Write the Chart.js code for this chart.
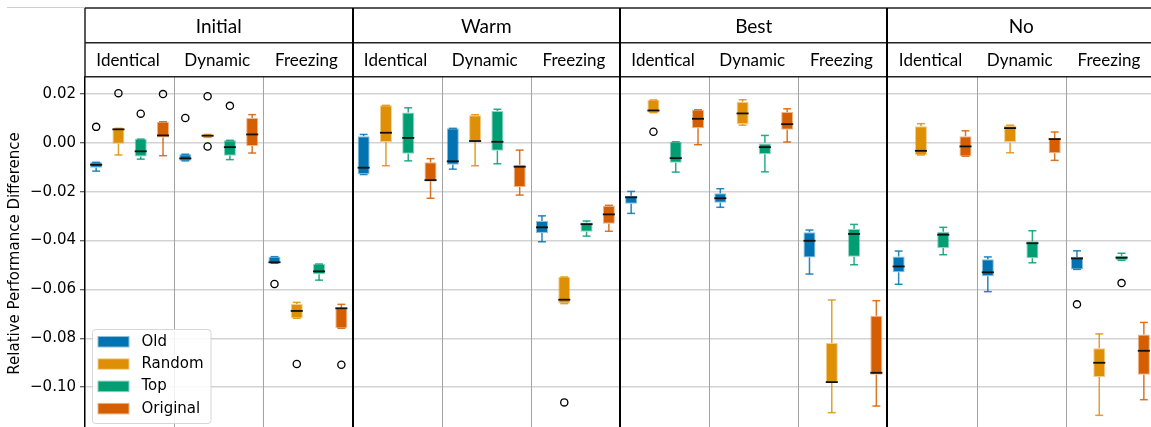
<!DOCTYPE html>
<html><head><meta charset="utf-8">
<style>
html,body{margin:0;padding:0;overflow:hidden;background:#fff;width:1151px;height:427px}
canvas{display:block}
</style>
<script src="https://cdn.jsdelivr.net/npm/chart.js@4.4.1/dist/chart.umd.min.js"></script>
</head><body>
<canvas id="c" width="1160" height="445" style="width:1160px;height:445px"></canvas>
<script>
const groups = ['Initial', 'Warm', 'Best', 'No'];
const subgroups = ['Identical', 'Dynamic', 'Freezing'];
const categories = groups.flatMap(g => subgroups.map(s => g + ' / ' + s));
const seriesNames = ['Old', 'Random', 'Top', 'Original'];
const seriesColors = ['#0173b2', '#de8f05', '#029e73', '#d55e00'];

// each entry: [lower whisker, Q1, median, Q3, upper whisker]
const oldBoxes = [
  [-0.0116, -0.0102, -0.0090, -0.0080, -0.0080],
  [-0.0074, -0.0074, -0.0064, -0.0047, -0.0047],
  [-0.0493, -0.0493, -0.0489, -0.0466, -0.0466],
  [-0.0130, -0.0128, -0.0102, 0.0027, 0.0034],
  [-0.0108, -0.0090, -0.0076, 0.0059, 0.0059],
  [-0.0405, -0.0369, -0.0346, -0.0320, -0.0299],
  [-0.0289, -0.0249, -0.0223, -0.0217, -0.0199],
  [-0.0264, -0.0245, -0.0227, -0.0207, -0.0188],
  [-0.0537, -0.0469, -0.0401, -0.0366, -0.0357],
  [-0.0579, -0.0530, -0.0506, -0.0465, -0.0443],
  [-0.0609, -0.0546, -0.0530, -0.0477, -0.0467],
  [-0.0518, -0.0518, -0.0473, -0.0467, -0.0442]
];
const randomBoxes = [
  [-0.0050, -0.0004, 0.0055, 0.0059, 0.0059],
  [0.0022, 0.0022, 0.0029, 0.0034, 0.0034],
  [-0.0718, -0.0718, -0.0688, -0.0660, -0.0653],
  [-0.0094, 0.0003, 0.0041, 0.0153, 0.0153],
  [-0.0094, 0.0004, 0.0007, 0.0113, 0.0115],
  [-0.0658, -0.0658, -0.0642, -0.0549, -0.0549],
  [0.0123, 0.0123, 0.0132, 0.0175, 0.0175],
  [0.0072, 0.0076, 0.0120, 0.0168, 0.0176],
  [-0.1104, -0.0981, -0.0979, -0.0819, -0.0643],
  [-0.0050, -0.0050, -0.0033, 0.0068, 0.0078],
  [-0.0041, 0.0000, 0.0060, 0.0071, 0.0072],
  [-0.1115, -0.0958, -0.0900, -0.0841, -0.0782]
];
const topBoxes = [
  [-0.0067, -0.0056, -0.0035, 0.0015, 0.0015],
  [-0.0069, -0.0053, -0.0018, 0.0010, 0.0010],
  [-0.0562, -0.0538, -0.0526, -0.0496, -0.0496],
  [-0.0074, -0.0045, 0.0020, 0.0124, 0.0143],
  [-0.0086, -0.0033, 0.0004, 0.0130, 0.0137],
  [-0.0382, -0.0364, -0.0333, -0.0326, -0.0320],
  [-0.0120, -0.0082, -0.0063, 0.0004, 0.0004],
  [-0.0119, -0.0047, -0.0018, 0.0000, 0.0030],
  [-0.0499, -0.0466, -0.0373, -0.0353, -0.0334],
  [-0.0458, -0.0431, -0.0376, -0.0364, -0.0346],
  [-0.0491, -0.0472, -0.0411, -0.0403, -0.0360],
  [-0.0481, -0.0481, -0.0470, -0.0463, -0.0452]
];
const originalBoxes = [
  [-0.0053, 0.0022, 0.0030, 0.0086, 0.0086],
  [-0.0042, -0.0013, 0.0034, 0.0101, 0.0115],
  [-0.0759, -0.0759, -0.0677, -0.0676, -0.0661],
  [-0.0227, -0.0158, -0.0153, -0.0080, -0.0065],
  [-0.0214, -0.0181, -0.0098, -0.0090, -0.0030],
  [-0.0362, -0.0331, -0.0293, -0.0258, -0.0256],
  [-0.0008, 0.0059, 0.0098, 0.0135, 0.0135],
  [0.0003, 0.0053, 0.0076, 0.0126, 0.0139],
  [-0.1077, -0.0949, -0.0941, -0.0708, -0.0646],
  [-0.0055, -0.0055, -0.0015, 0.0027, 0.0049],
  [-0.0072, -0.0043, 0.0015, 0.0019, 0.0044],
  [-0.1051, -0.0949, -0.0851, -0.0784, -0.0735]
];
const oldOutliers = [[0.0065], [0.0101], [-0.0578], [], [], [], [], [], [], [], [], [-0.0661]];
const randomOutliers = [[0.0203], [0.0190, -0.0015], [-0.0905], [], [], [-0.1062], [0.0045], [], [], [], [], []];
const topOutliers = [[0.0119], [0.0151], [], [], [], [], [], [], [], [], [], [-0.0574]];
const originalOutliers = [[0.0199], [], [-0.0908], [], [], [], [], [], [], [], [], []];

const yTicks = [0.02, 0.00, -0.02, -0.04, -0.06, -0.08, -0.10];
const yMin = -0.1175, yMax = 0.0269;

const allBoxes = [oldBoxes, randomBoxes, topBoxes, originalBoxes];
const allOutliers = [oldOutliers, randomOutliers, topOutliers, originalOutliers];

function rgba(hex, a) {
  const n = parseInt(hex.slice(1), 16);
  return `rgba(${(n >> 16) & 255},${(n >> 8) & 255},${n & 255},${a})`;
}

const datasets = seriesNames.map((name, i) => ({
  label: name,
  data: allBoxes[i].map(b => [b[1], b[3]]),
  stats: allBoxes[i],
  outliers: allOutliers[i],
  baseColor: seriesColors[i],
  backgroundColor: seriesColors[i],
  borderColor: rgba(seriesColors[i], 0.45),
  borderWidth: 1,
  borderSkipped: false,
  categoryPercentage: 1.0,
  barPercentage: 0.54
}));

function hline(ctx, x1, x2, y) { ctx.beginPath(); ctx.moveTo(x1, y); ctx.lineTo(x2, y); ctx.stroke(); }
function vline(ctx, x, y1, y2) { ctx.beginPath(); ctx.moveTo(x, y1); ctx.lineTo(x, y2); ctx.stroke(); }

const boxPlugin = {
  id: 'boxParts',
  beforeDatasetsDraw(chart) {
    const { ctx, chartArea: a, scales: { x, y } } = chart;
    const w = x.width / categories.length;
    ctx.save();
    ctx.strokeStyle = '#a3a3a3';
    ctx.lineWidth = 1;
    for (let i = 1; i < categories.length; i++) {
      if (i % subgroups.length === 0) continue;
      const px = Math.round(x.getPixelForValue(i) - w / 2) + 0.5;
      vline(ctx, px, a.top, a.bottom);
    }
    chart.data.datasets.forEach((ds, di) => {
      const meta = chart.getDatasetMeta(di);
      ctx.strokeStyle = rgba(ds.baseColor, 0.85);
      ctx.lineWidth = 1.5;
      ds.stats.forEach((b, j) => {
        const el = meta.data[j];
        const cx = el.x;
        const cw = el.width * 0.33;
        vline(ctx, cx, y.getPixelForValue(b[0]), y.getPixelForValue(b[1]));
        vline(ctx, cx, y.getPixelForValue(b[3]), y.getPixelForValue(b[4]));
        hline(ctx, cx - cw, cx + cw, y.getPixelForValue(b[0]));
        hline(ctx, cx - cw, cx + cw, y.getPixelForValue(b[4]));
      });
    });
    ctx.restore();
  },
  afterDatasetsDraw(chart) {
    const { ctx, scales: { y } } = chart;
    ctx.save();
    chart.data.datasets.forEach((ds, di) => {
      const meta = chart.getDatasetMeta(di);
      ds.stats.forEach((b, j) => {
        const el = meta.data[j];
        ctx.strokeStyle = '#111';
        ctx.lineWidth = 1.8;
        hline(ctx, el.x - el.width / 2, el.x + el.width / 2, y.getPixelForValue(b[2]));
        ctx.strokeStyle = '#000';
        ctx.lineWidth = 1.3;
        ds.outliers[j].forEach(v => {
          ctx.beginPath();
          ctx.arc(el.x, y.getPixelForValue(v), 3.6, 0, Math.PI * 2);
          ctx.stroke();
        });
      });
    });
    ctx.restore();
  },
  afterDraw(chart) {
    const { ctx, chartArea: a, scales: { x } } = chart;
    const w = x.width / categories.length;
    const headTop = 8, headMid = 42.75;
    ctx.save();
    ctx.strokeStyle = '#cfcfcf';
    ctx.lineWidth = 1;
    hline(ctx, 7, a.left, 7.5);
    ctx.strokeStyle = '#222';
    ctx.lineWidth = 1.5;
    hline(ctx, a.left, a.right, headTop);
    hline(ctx, a.left, a.right, headMid);
    hline(ctx, a.left, a.right, a.top - 0.25);
    vline(ctx, a.left, headTop, a.top);
    ctx.strokeStyle = '#000';
    ctx.lineWidth = 2;
    for (let g = 1; g < groups.length; g++) {
      const px = Math.round(x.getPixelForValue(g * subgroups.length) - w / 2);
      vline(ctx, px, headTop, a.bottom);
    }
    ctx.fillStyle = '#000';
    ctx.textAlign = 'center';
    ctx.textBaseline = 'alphabetic';
    ctx.font = '19px Lato';
    groups.forEach((g, gi) => {
      const c0 = x.getPixelForValue(gi * 3) - w / 2;
      const c1 = x.getPixelForValue(gi * 3 + 2) + w / 2;
      ctx.fillText(g, (c0 + c1) / 2, 33.3);
    });
    ctx.font = '17px Lato';
    categories.forEach((c, i) => {
      ctx.fillText(subgroups[i % 3], x.getPixelForValue(i) - 1.5, 65.7);
    });
    const lx = a.left + 7.5, ly = 329.5, lw = 118.5, lh = 94;
    ctx.beginPath();
    ctx.roundRect(lx, ly, lw, lh, 3);
    ctx.fillStyle = 'rgba(255,255,255,0.85)';
    ctx.fill();
    ctx.strokeStyle = '#d6d6d6';
    ctx.lineWidth = 1;
    ctx.stroke();
    ctx.font = '15px "DejaVu Sans", sans-serif';
    ctx.textAlign = 'left';
    ctx.textBaseline = 'middle';
    chart.data.datasets.forEach((ds, i) => {
      const ry = 336 + i * 22.3;
      ctx.fillStyle = rgba(ds.baseColor, 0.45);
      ctx.fillRect(lx + 5, ry, 32, 11.5);
      ctx.fillStyle = ds.baseColor;
      ctx.fillRect(lx + 6, ry + 1, 30, 9.5);
      ctx.fillStyle = '#000';
      ctx.fillText(ds.label, lx + 49, ry + 6);
    });
    ctx.restore();
  }
};

new Chart(document.getElementById('c'), {
  type: 'bar',
  data: { labels: categories, datasets },
  options: {
    responsive: false,
    animation: false,
    devicePixelRatio: 1,
    layout: { padding: { left: 0, top: 77, right: 5, bottom: 15 } },
    plugins: { legend: { display: false }, tooltip: { enabled: false } },
    scales: {
      x: { display: false, grid: { display: false } },
      y: {
        min: yMin,
        max: yMax,
        afterBuildTicks(scale) { scale.ticks = yTicks.map(v => ({ value: v })); },
        afterFit(scale) { scale.width = 85; scale.paddingTop = 0; scale.paddingBottom = 0; },
        ticks: {
          color: '#000',
          padding: 4,
          font: { family: '"DejaVu Sans", sans-serif', size: 15 },
          callback: v => (v < -1e-9 ? '\u2212' : '') + Math.abs(v).toFixed(2)
        },
        grid: { color: '#d3d3d3', lineWidth: 1.5, tickLength: 5, tickColor: '#333', tickWidth: 1 },
        border: { display: true, color: '#000', width: 1.5 },
        title: {
          display: true,
          text: 'Relative Performance Difference',
          color: '#000',
          font: { family: '"DejaVu Sans", sans-serif', size: 15 },
          padding: { top: 6, bottom: 0 }
        }
      }
    }
  },
  plugins: [boxPlugin]
});
</script>
</body></html>
